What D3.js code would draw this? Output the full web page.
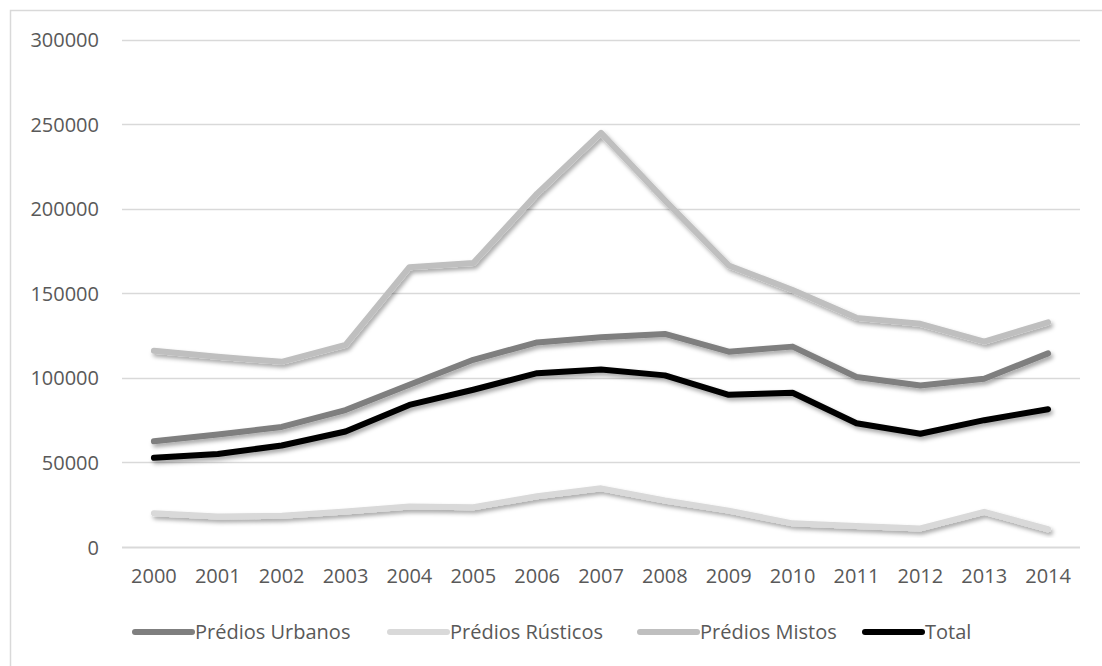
<!DOCTYPE html>
<html><head><meta charset="utf-8">
<script src="https://cdn.jsdelivr.net/npm/d3@7"></script>
<style>body{margin:0;background:#fff}svg{display:block}text{font-family:"Open Sans",sans-serif;fill:#595959}</style>
</head><body>
<svg id="c" width="1102" height="666"></svg>
<script>
const years = ["2000","2001","2002","2003","2004","2005","2006","2007","2008","2009","2010","2011","2012","2013","2014"];
const urbanos  = [62500,66500,71000,81000,96000,110700,121000,124000,126000,115500,118500,100500,95500,99500,114500];
const rusticos = [20000,18000,18500,21000,24000,23500,30000,34700,27500,21500,14000,12400,11000,20800,10500];
const mistos   = [116000,112500,109500,119500,165500,167900,209000,244900,205000,166500,152000,135500,132000,121500,132800];
const total    = [52800,55000,60000,68300,84000,93000,102800,105000,101500,90000,91200,73200,67000,75000,81500];
const yTicks = [0,50000,100000,150000,200000,250000,300000];
const seriesNames = ["Prédios Urbanos","Prédios Rústicos","Prédios Mistos","Total"];
const seriesColors = ["#7f7f7f","#d9d9d9","#bfbfbf","#000000"];
const seriesData = [urbanos, rusticos, mistos, total];

const svg = d3.select("#c");
const defs = svg.append("defs");
const f = defs.append("filter").attr("id","sh").attr("x","-10%").attr("y","-10%").attr("width","120%").attr("height","130%");
f.append("feDropShadow").attr("dx",2).attr("dy",3).attr("stdDeviation",2).attr("flood-color","#000").attr("flood-opacity",0.35);

svg.append("rect").attr("x",10.5).attr("y",10.5).attr("width",1200).attr("height",800)
  .attr("fill","none").attr("stroke","#d9d9d9").attr("stroke-width",1.5);

const x = d3.scaleBand().domain(years).range([122,1080]);
const y = d3.scaleLinear().domain([0,300000]).range([547,39.7]);

svg.append("g").selectAll("line").data(yTicks).join("line")
  .attr("x1",122).attr("x2",1080)
  .attr("y1",d=>Math.round(y(d))+0.5).attr("y2",d=>Math.round(y(d))+0.5)
  .attr("stroke","#d9d9d9").attr("stroke-width",d=>d===0?2:1.5);

const yAxis = d3.axisLeft(y).tickValues(yTicks).tickSize(0).tickPadding(0).tickFormat(d3.format("d"));
const gy = svg.append("g").attr("transform","translate(99,0)").call(yAxis);
gy.select(".domain").remove();
gy.selectAll("text").attr("font-size",20).attr("font-family","Open Sans").attr("fill","#595959").attr("dy","0.35em");

const xAxis = d3.axisBottom(x).tickSize(0).tickPadding(0);
const gx = svg.append("g").attr("transform","translate(0,569)").call(xAxis);
gx.select(".domain").remove();
gx.selectAll("text").attr("font-size",20).attr("font-family","Open Sans").attr("fill","#595959").attr("dy","0.71em");

const line = d3.line().x((d,i)=>x(years[i])+x.bandwidth()/2).y(d=>y(d));
svg.append("g").selectAll("path").data(seriesData).join("path")
  .attr("d",d=>line(d)).attr("fill","none")
  .attr("stroke",(d,i)=>seriesColors[i]).attr("stroke-width",6)
  .attr("stroke-linejoin","round").attr("stroke-linecap","round")
  .attr("filter","url(#sh)");

const legX = [135,390,640,865];
const lg = svg.append("g").selectAll("g").data(seriesNames).join("g")
  .attr("transform",(d,i)=>`translate(${legX[i]},632)`);
lg.append("line").attr("x1",0).attr("x2",57).attr("y1",0).attr("y2",0)
  .attr("stroke",(d,i)=>seriesColors[i]).attr("stroke-width",6).attr("stroke-linecap","round");
lg.append("text").attr("x",60).attr("dy","0.35em").attr("font-size",20).text(d=>d);
</script>
</body></html>
